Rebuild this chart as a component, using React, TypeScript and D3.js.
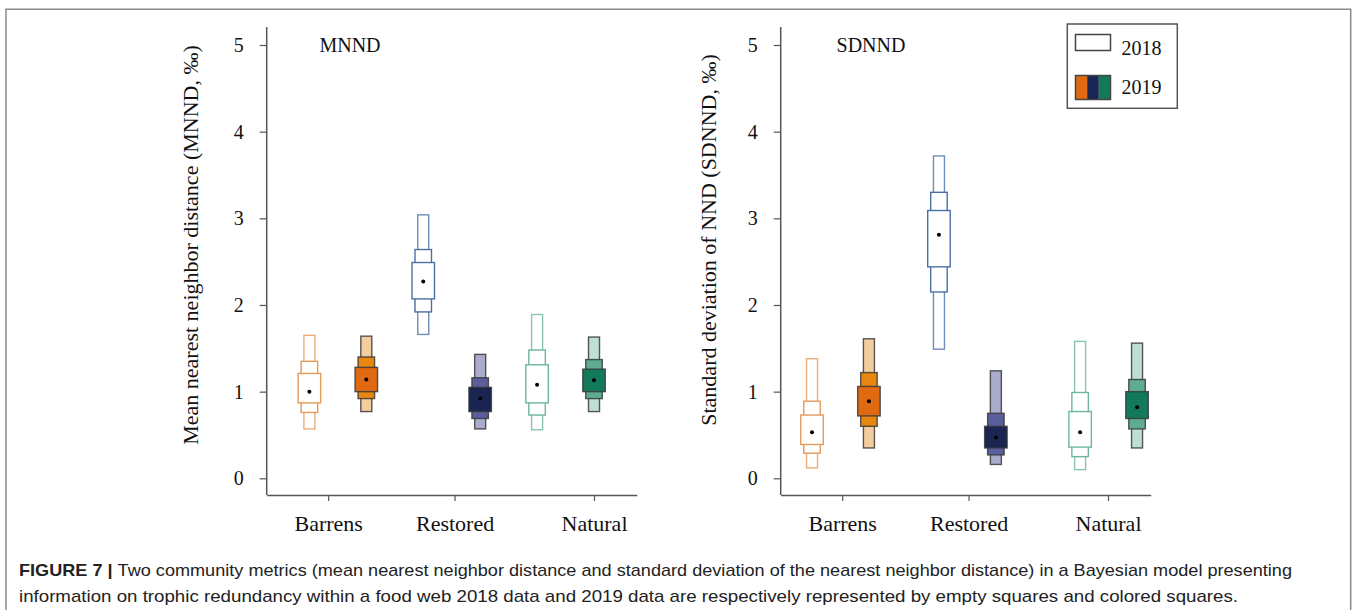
import { useEffect, useRef } from 'react';
import * as d3 from 'd3';

const CATEGORIES = ['Barrens', 'Restored', 'Natural'];
const YEARS = ['2018', '2019'];
const Y_TICKS = [0, 1, 2, 3, 4, 5];

// box order: Barrens 2018, Barrens 2019, Restored 2018, Restored 2019, Natural 2018, Natural 2019
const MNND_MEDIAN = [1.0, 1.14, 2.27, 0.92, 1.08, 1.13];
const MNND_INNER = [[0.87, 1.21], [1.0, 1.28], [2.07, 2.49], [0.77, 1.05], [0.87, 1.31], [1.0, 1.26]];
const MNND_MIDDLE = [[0.76, 1.35], [0.92, 1.4], [1.92, 2.64], [0.69, 1.16], [0.73, 1.48], [0.92, 1.37]];
const MNND_OUTER = [[0.57, 1.65], [0.77, 1.64], [1.66, 3.04], [0.57, 1.43], [0.56, 1.89], [0.77, 1.63]];

const SDNND_MEDIAN = [0.53, 0.89, 2.81, 0.47, 0.53, 0.82];
const SDNND_INNER = [[0.39, 0.73], [0.72, 1.06], [2.44, 3.09], [0.35, 0.6], [0.36, 0.77], [0.69, 1.0]];
const SDNND_MIDDLE = [[0.29, 0.89], [0.6, 1.22], [2.15, 3.3], [0.27, 0.75], [0.25, 0.99], [0.57, 1.14]];
const SDNND_OUTER = [[0.12, 1.38], [0.35, 1.61], [1.49, 3.72], [0.16, 1.24], [0.1, 1.58], [0.35, 1.56]];

// where each box sits along the x axis, in box spacings
const MNND_SLOTS = [0.75, 1.75, 2.75, 3.75, 4.75, 5.75];
const SDNND_SLOTS = [0.55, 1.55, 2.78, 3.78, 5.26, 6.26];
const CATEGORY_SLOTS = [1.08, 3.3, 5.75];

const OUTLINE_2018 = ['#E49A5A', '#4A70A6', '#6DB5A0'];
const FILL_2019 = [
  ['#F4CD9E', '#E8870F', '#DF6A12'],
  ['#ABABCE', '#5A5E9B', '#1A2551'],
  ['#BDE0D3', '#5EAD93', '#127A5B'],
];

const SERIF = '"Liberation Serif", "Times New Roman", serif';
const W = 1356;
const H = 610;

const PANELS = [
  {
    title: 'MNND',
    yLabel: 'Mean nearest neighbor distance (MNND, ‰)',
    median: MNND_MEDIAN, inner: MNND_INNER, middle: MNND_MIDDLE, outer: MNND_OUTER,
    slots: MNND_SLOTS,
    x0: 266.7, titleX: 350, yLabelX: 190, yLabelY: 245,
  },
  {
    title: 'SDNND',
    yLabel: 'Standard deviation of NND (SDNND, ‰)',
    median: SDNND_MEDIAN, inner: SDNND_INNER, middle: SDNND_MIDDLE, outer: SDNND_OUTER,
    slots: SDNND_SLOTS,
    x0: 780.7, titleX: 871, yLabelX: 708, yLabelY: 240,
  },
];

export default function App() {
  const svgRef = useRef<SVGSVGElement>(null);

  useEffect(() => {
    if (!svgRef.current) return;
    const svg = d3.select(svgRef.current);
    svg.selectAll('*').remove();

    svg.append('rect').attr('width', W).attr('height', H).attr('fill', '#fff');

    // figure frame
    svg.append('path')
      .attr('d', `M6,${H} V9.3 H1350.7 V${H}`)
      .attr('fill', 'none')
      .attr('stroke', '#8a8a8a')
      .attr('stroke-width', 1.5);

    const plotTop = 27;
    const plotBottom = 495;
    const axisLen = 370;
    const y = d3.scaleLinear().domain([0, 5]).range([478.3, 45]);
    const boxW = [11, 16.5, 22.5];

    PANELS.forEach(p => {
      const x = d3.scaleLinear().domain([0, 6.5]).range([p.x0, p.x0 + axisLen]);
      const g = svg.append('g');

      // y axis
      const ya = g.append('g')
        .attr('transform', `translate(${p.x0},0)`)
        .call(d3.axisLeft(y).tickValues(Y_TICKS).tickSize(7).tickPadding(16).tickSizeOuter(0).tickFormat(d3.format('d')));
      ya.select('.domain').remove();
      ya.selectAll('.tick line').attr('stroke', '#555').attr('stroke-width', 1.2);
      ya.selectAll('text').attr('font-family', SERIF).attr('font-size', 20).attr('fill', '#111');
      g.append('line')
        .attr('x1', p.x0).attr('x2', p.x0)
        .attr('y1', plotTop).attr('y2', plotBottom)
        .attr('stroke', '#555').attr('stroke-width', 1.5);

      // x axis
      const xa = g.append('g')
        .attr('transform', `translate(0,${plotBottom})`)
        .call(d3.axisBottom(x).tickValues(CATEGORY_SLOTS).tickSize(6).tickPadding(14).tickSizeOuter(0)
          .tickFormat((_, i) => CATEGORIES[i]));
      xa.select('.domain').attr('stroke', '#555').attr('stroke-width', 1.5);
      xa.selectAll('.tick line').attr('stroke', '#555').attr('stroke-width', 1.2);
      xa.selectAll('text').attr('font-family', SERIF).attr('font-size', 22).attr('fill', '#111');

      // titles
      g.append('text')
        .attr('x', p.titleX).attr('y', 52)
        .attr('text-anchor', 'middle')
        .attr('font-family', SERIF).attr('font-size', 20).attr('fill', '#111')
        .text(p.title);

      g.append('text')
        .attr('transform', `translate(${p.yLabelX},${p.yLabelY}) rotate(-90)`)
        .attr('text-anchor', 'middle')
        .attr('dy', '0.35em')
        .attr('font-family', SERIF).attr('font-size', 22).attr('fill', '#111')
        .text(p.yLabel);

      // boxes
      p.median.forEach((m, i) => {
        const cat = Math.floor(i / 2);
        const filled = i % 2 === 1;
        const cx = x(p.slots[i]);
        const ranges = [p.outer[i], p.middle[i], p.inner[i]];
        ranges.forEach((r, k) => {
          g.append('rect')
            .attr('x', cx - boxW[k] / 2)
            .attr('width', boxW[k])
            .attr('y', y(r[1]))
            .attr('height', y(r[0]) - y(r[1]))
            .attr('fill', filled ? FILL_2019[cat][k] : '#fff')
            .attr('stroke', filled ? '#3a3a3a' : OUTLINE_2018[cat])
            .attr('stroke-opacity', filled ? 0.85 : k === 0 ? 0.8 : 1)
            .attr('stroke-width', 1.4);
        });
        g.append('circle')
          .attr('cx', cx).attr('cy', y(m)).attr('r', 2)
          .attr('fill', '#000');
      });
    });

    // legend
    const lg = svg.append('g');
    lg.append('rect')
      .attr('x', 1067.3).attr('y', 24).attr('width', 110).attr('height', 84.3)
      .attr('fill', '#fff').attr('stroke', '#555').attr('stroke-width', 1.5);
    lg.append('rect')
      .attr('x', 1075.5).attr('y', 34.5).attr('width', 35).attr('height', 16)
      .attr('fill', '#fff').attr('stroke', '#444').attr('stroke-width', 1.5);
    const stripe = d3.scaleBand<number>().domain([0, 1, 2]).range([1075.5, 1110.5]);
    [0, 1, 2].forEach(c => {
      lg.append('rect')
        .attr('x', stripe(c)!).attr('y', 75.5)
        .attr('width', stripe.bandwidth()).attr('height', 24)
        .attr('fill', FILL_2019[c][2]);
    });
    lg.append('rect')
      .attr('x', 1075.5).attr('y', 75.5).attr('width', 35).attr('height', 24)
      .attr('fill', 'none').attr('stroke', '#444').attr('stroke-width', 1.5);
    YEARS.forEach((yr, i) => {
      lg.append('text')
        .attr('x', 1121.5).attr('y', i === 0 ? 55 : 94)
        .attr('font-family', SERIF).attr('font-size', 20).attr('fill', '#111')
        .text(yr);
    });

    // caption
    const cap1 = svg.append('text')
      .attr('x', 19).attr('y', 576)
      .attr('font-family', '"Liberation Sans", Arial, sans-serif').attr('font-size', 17).attr('fill', '#222')
      .attr('textLength', 1273).attr('lengthAdjust', 'spacingAndGlyphs');
    cap1.append('tspan').attr('font-weight', 'bold').text('FIGURE 7 | ');
    cap1.append('tspan').text('Two community metrics (mean nearest neighbor distance and standard deviation of the nearest neighbor distance) in a Bayesian model presenting');
    svg.append('text')
      .attr('x', 19).attr('y', 602)
      .attr('font-family', '"Liberation Sans", Arial, sans-serif').attr('font-size', 17).attr('fill', '#222')
      .attr('textLength', 1219).attr('lengthAdjust', 'spacingAndGlyphs')
      .text('information on trophic redundancy within a food web 2018 data and 2019 data are respectively represented by empty squares and colored squares.');
  }, []);

  return (
    <svg
      ref={svgRef}
      width={W}
      height={H}
      style={{ position: 'absolute', left: 0, top: 0, display: 'block' }}
    />
  );
}
